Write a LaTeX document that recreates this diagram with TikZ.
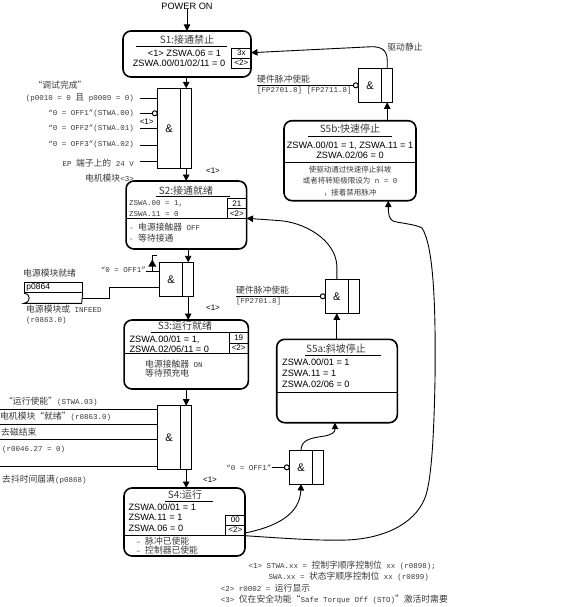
\documentclass[tikz,border=0pt]{standalone}
\usepackage{fontspec}
\setmainfont{Liberation Sans}
\setmonofont{Liberation Mono}
\newfontfamily\cjk{Noto Sans CJK SC}
\usepackage{tikz}
\usetikzlibrary{arrows.meta, positioning}
\definecolor{songgray}{HTML}{3A3A3A}
\newcommand{\zh}[1]{{\cjk\fontsize{8.8}{10}\selectfont #1}}
\newcommand{\zhs}[1]{{\cjk\fontsize{7.5}{9}\selectfont #1}}

\begin{document}
\begin{tikzpicture}[x=1pt, y=-1pt,
  state/.style={draw, line width=1.6pt, rounded corners=8pt, inner sep=0pt, outer sep=0pt},
  gate/.style={draw, line width=0.9pt, inner sep=0pt, outer sep=0pt, font=\fontsize{11}{12}\selectfont},
  strip/.style={draw, line width=0.9pt, inner sep=0pt, outer sep=0pt, minimum width=11pt},
  inv/.style={draw, circle, line width=1pt, fill=white, inner sep=0pt, outer sep=0pt, minimum size=5pt},
  tag/.style={draw, line width=0.8pt, inner sep=0pt, outer sep=0pt, minimum width=19.3pt, minimum height=10pt, font=\fontsize{8}{9}\selectfont},
  sans/.style={inner sep=0pt, font=\fontsize{9.2}{10}\selectfont},
  small/.style={inner sep=0pt, font=\fontsize{8}{9}\selectfont},
  mono/.style={inner sep=0pt, songgray, font=\fontsize{7.5}{9}\selectfont\ttfamily},
  zhtxt/.style={inner sep=0pt, songgray, font=\fontsize{8.8}{10}\selectfont\cjk},
  title/.style={inner sep=0pt, songgray, font=\fontsize{10}{11}\selectfont\cjk},
  wire/.style={line width=0.9pt},
  arr/.style={-{Triangle[width=6.5pt,length=6.5pt]}, line width=0.9pt}]
  \useasboundingbox (0,0) rectangle (561,607);

  % ── STATES ─────────────────────────────────
  \node[state, minimum width=128pt, minimum height=46pt] (S1) at (187,54) {};
  \node[state, minimum width=120.5pt, minimum height=68pt] (S2) at (186.3,215) {};
  \node[state, minimum width=124.3pt, minimum height=69pt] (S3) at (186.2,354.5) {};
  \node[state, minimum width=121pt, minimum height=68pt] (S4) at (184.5,522) {};
  \node[state, minimum width=120.6pt, minimum height=83.4pt] (S5a) at (337,381) {};
  \node[state, minimum width=132pt, minimum height=80pt] (S5b) at (350,160.7) {};

  % S1
  \node[title] (S1h) at (187,40) {S1:接通禁止};
  \draw[line width=0.8pt] (136,46) -- (227,46);
  \node[sans] (S1a) at (184.5,53) {<1> ZSWA.06 = 1};
  \node[sans] (S1b) at (179,63.5) {ZSWA.00/01/02/11 = 0};
  \node[tag, anchor=north east] (S1t) at (S1.east |- 0,48) {3x};
  \node[tag, anchor=north] (S1u) at (S1t.south) {<2>};

  % S2
  \node[title] (S2h) at (186,190.7) {S2:接通就绪};
  \draw[line width=0.8pt] (156,196.3) -- (230,196.3);
  \node[mono, anchor=west] (S2a) at (129,203.3) {ZSWA.00 = 1,};
  \node[mono, anchor=west] (S2b) at (129,214) {ZSWA.11 = 0};
  \node[tag, anchor=north east] (S2t) at (S2.east |- 0,198.3) {21};
  \node[tag, anchor=north] (S2u) at (S2t.south) {<2>};
  \draw[wire] (S2.west |- S2u.south) -- (S2u.south east);
  \node[mono, anchor=west] (S2c) at (129,227) {- \zh{电源接触器} OFF};
  \node[mono, anchor=west] (S2d) at (129,238.3) {- \zh{等待接通}};

  % S3
  \node[title] (S3h) at (185,325.5) {S3:运行就绪};
  \draw[line width=0.8pt] (151,332.2) -- (231,332.2);
  \node[sans, anchor=west] (S3a) at (129.3,339.3) {ZSWA.00/01 = 1,};
  \node[sans, anchor=west] (S3b) at (129.3,349) {ZSWA.02/06/11 = 0};
  \node[tag, anchor=north east, minimum height=10.3pt] (S3t) at (S3.east |- 0,332.7) {19};
  \node[tag, anchor=north, minimum height=10.3pt] (S3u) at (S3t.south) {<2>};
  \draw[wire] (S3.west |- S3u.south) -- (S3u.south east);
  \node[mono, anchor=west] (S3c) at (145,364.3) {\zh{电源接触器} ON};
  \node[zhtxt, anchor=west] (S3d) at (145,373.5) {等待预充电};

  % S4
  \node[title] (S4h) at (185,495) {S4:运行};
  \draw[line width=0.8pt] (165,501) -- (213.3,501);
  \node[sans, anchor=west] (S4a) at (128.3,507.7) {ZSWA.00/01 = 1};
  \node[sans, anchor=west] (S4b) at (128.3,517.3) {ZSWA.11 = 1};
  \node[sans, anchor=west] (S4c) at (128.3,528.5) {ZSWA.06 = 0};
  \node[tag, anchor=north east] (S4t) at (S4.east |- 0,515) {00};
  \node[tag, anchor=north] (S4u) at (S4t.south) {<2>};
  \draw[wire] (S4.west |- S4u.south) -- (S4u.south east);
  \node[mono, anchor=west] (S4d) at (136,541) {– \zh{脉冲已使能}};
  \node[mono, anchor=west] (S4e) at (136,550.5) {– \zh{控制器已使能}};

  % S5a
  \node[title] (S5ah) at (336,348.3) {S5a:斜坡停止};
  \draw[line width=0.8pt] (305,355.7) -- (380.7,355.7);
  \node[sans, anchor=west] (S5aa) at (282,362.7) {ZSWA.00/01 = 1};
  \node[sans, anchor=west] (S5ab) at (282,373.3) {ZSWA.11 = 1};
  \node[sans, anchor=west] (S5ac) at (282,384.3) {ZSWA.02/06 = 0};
  \draw[wire] (S5a.west |- 0,392.7) -- (S5a.east |- 0,392.7);

  % S5b
  \node[title] (S5bh) at (350,129) {S5b:快速停止};
  \draw[line width=0.8pt] (308,136) -- (392,136);
  \node[sans] (S5ba) at (350,145.7) {ZSWA.00/01 = 1, ZSWA.11 = 1};
  \node[sans] (S5bb) at (350,155.3) {ZSWA.02/06 = 0};
  \draw[wire] (S5b.west |- 0,162.7) -- (S5b.east |- 0,162.7);
  \node[mono] (S5bc) at (350,169.3) {\zhs{使驱动通过快速停止斜坡}};
  \node[mono] (S5bd) at (350,181) {\zhs{或者将转矩极限设为} n = 0};
  \node[mono] (S5be) at (350,193) {\zhs{，接着禁用脉冲}};

  % ── GATES ──────────────────────────────────
  \node[gate, anchor=north west, minimum width=23.4pt, minimum height=80pt] (g1) at (157.3,88.3) {\&};
  \node[strip, minimum height=80pt, right=0pt of g1] (g1s) {};
  \node[gate, anchor=north west, minimum width=23.4pt, minimum height=34.2pt] (g2) at (159.3,262.3) {\&};
  \node[strip, minimum height=34.2pt, right=0pt of g2] (g2s) {};
  \node[gate, anchor=north west, minimum width=23.4pt, minimum height=63.6pt] (g3) at (157.3,405.7) {\&};
  \node[strip, minimum height=63.6pt, right=0pt of g3] (g3s) {};
  \node[gate, anchor=north west, minimum width=23.4pt, minimum height=34pt] (g5bt) at (358.3,68.3) {\&};
  \node[strip, minimum height=34pt, right=0pt of g5bt] (g5bts) {};
  \node[gate, anchor=north west, minimum width=23pt, minimum height=34pt] (g5at) at (325.3,279.3) {\&};
  \node[strip, minimum height=34pt, right=0pt of g5at] (g5ats) {};
  \node[gate, anchor=north west, minimum width=23.4pt, minimum height=33.3pt] (g5ab) at (289.3,450.7) {\&};
  \node[strip, minimum height=33.3pt, right=0pt of g5ab] (g5abs) {};

  % ── MAIN CHAIN ─────────────────────────────
  \node[sans] (pwr) at (187,6) {POWER ON};
  \draw[arr] (pwr.south) -- (S1.north);
  \draw[arr] (S1.south -| g1s) -- (g1s.north);
  \draw[arr] (g1s.south) -- (g1s.south |- S2.north);
  \draw[arr] (S2.south -| g2s) -- (g2s.north);
  \draw[arr] (g2s.south) -- (g2s.south |- S3.north);
  \draw[arr] (S3.south -| g3s) -- (g3s.north);
  \draw[arr] (g3s.south) -- (g3s.south |- S4.north);
  \node[small] (n1) at (213,170.7) {<1>};
  \node[small] (n2) at (213,307.7) {<1>};
  \node[small] (n3) at (210,480) {<1>};

  % ── INPUTS TO g1 ───────────────────────────
  \foreach \y in {98.3,128.3,145,161.7}
    \draw[wire] (140,\y) -- (g1.west |- 0,\y);
  \node[inv, anchor=east] (g1n) at (g1.west |- 0,113.3) {};
  \draw[wire] (140,113.3) -- (g1n.west);
  \node[zhtxt] (i1a) at (60,85) {“调试完成”};
  \node[mono, anchor=east] (i1b) at (134,98.3) {(p0010 = 0 \zh{且} p0009 = 0)};
  \node[mono, anchor=east] (i1c) at (134,113.3) {“0 = OFF1”(STWA.00)};
  \node[small] (i1d) at (146.7,121.7) {<1>};
  \node[mono, anchor=east] (i1e) at (134,128.3) {“0 = OFF2”(STWA.01)};
  \node[mono, anchor=east] (i1f) at (134,145) {“0 = OFF3”(STWA.02)};
  \node[mono, anchor=east] (i1g) at (134,163) {EP \zh{端子上的} 24 V};
  \node[mono, anchor=east] (i1h) at (134,178.5) {\zh{电机模块}<3>};

  % ── INPUTS TO g2 ───────────────────────────
  \node[mono, anchor=east] (i2a) at (146,270) {“0 = OFF1”};
  \draw[wire] (i2a.east |- 0,271.7) -- (g2.west |- 0,271.7);
  \draw[wire] (152.3,271.7) -- (152.3,255) -- (157,255);
  \fill (148.3,266.5) -- (156.3,266.5) -- (152.3,259.5) -- cycle;
  \node[zhtxt, anchor=west] (i2b) at (23,273.3) {电源模块就绪};
  \node[draw, wire, anchor=north west, inner xsep=2pt, inner ysep=0pt, text width=53.7pt,
        minimum height=10.6pt, font=\fontsize{8.5}{9}\selectfont] (p864) at (24,281.7) {p0864};
  \draw[wire] (p864.south east) -- (81.7,303.3) -- (24,303.3)
    .. controls (31,302) and (31,294) .. (p864.south west);
  \coordinate (p864o) at (81.7,298);
  \draw[wire] (p864o) -- (109.3,298) -- (109.3,287.3) -- (g2.west |- 0,287.3);
  \node[mono, anchor=west] (i2c) at (26,309.3) {\zh{电源模块或} INFEED};
  \node[mono, anchor=west] (i2d) at (26,320.7) {(r0863.0)};

  % ── INPUTS TO g3 ───────────────────────────
  \foreach \y in {409.3,424.3,439.3,466}
    \draw[wire] (0,\y) -- (g3.west |- 0,\y);
  \node[mono, anchor=west] (i3a) at (4,401.7) {\zh{“运行使能”}(STWA.03)};
  \node[mono, anchor=west] (i3b) at (0,416.7) {\zh{电机模块“就绪”}(r0863.0)};
  \node[zhtxt, anchor=west] (i3c) at (1,431.7) {去磁结束};
  \node[mono, anchor=west] (i3d) at (2,450) {(r0046.27 = 0)};
  \node[mono, anchor=west] (i3e) at (2,480) {\zh{去抖时间届满}(p0868)};

  % ── FAST STOP BRANCH ───────────────────────
  \node[inv, anchor=east] (g5btn) at (g5bt.west) {};
  \draw[wire] (256.7,0 |- g5bt.west) -- (g5btn.west);
  \node[zhtxt, anchor=west] (i5a) at (257,79) {硬件脉冲使能};
  \node[mono, anchor=west] (i5b) at (257,90.5) {[FP2701.8] [FP2711.8]};
  \node[zhtxt] (i5c) at (405,47) {驱动静止};
  \draw[arr] (S5b.north -| g5bts.south) -- (g5bts.south);
  \draw[arr] (g5bts.north) -- (387.2,60) .. controls (387.2,50) and (381,46.7) .. (372,46.7)
    -- ([yshift=1.3pt]S1.east);

  % ── RAMP STOP BRANCH ───────────────────────
  \node[inv, anchor=east] (g5atn) at (g5at.west) {};
  \draw[wire] (236,0 |- g5at.west) -- (g5atn.west);
  \node[zhtxt, anchor=west] (i6a) at (236,290) {硬件脉冲使能};
  \node[mono, anchor=west] (i6b) at (236,302) {[FP2701.8]};
  \draw[arr] (S5a.north -| g5at.south) -- (g5at.south);
  \draw[arr] (g5at.north) -- (336.8,265) .. controls (335,240) and (305,222) .. (278,220.5)
    -- ([yshift=-3.3pt]S2.east);

  \node[inv, anchor=east] (g5abn) at (g5ab.west) {};
  \node[mono, anchor=east] (i7a) at (271.5,0 |- g5ab.west) {“0 = OFF1”};
  \draw[wire] (i7a.east) -- (g5abn.west);
  \draw[arr] (g5ab.north) .. controls (301,440) and (310,438) .. (325,436)
    .. controls (333,434) and (335,432) .. ([xshift=-2pt]S5a.south);

  % ── FROM S4 ────────────────────────────────
  \draw[arr] ([yshift=-11pt]S4.east) .. controls (275,527) and (300,515) .. (g5ab.south);
  \draw[arr] ([yshift=-13.7pt]S4.east) .. controls (280,538) and (320,541) .. (347,540)
    .. controls (390,538) and (418,520) .. (426,495)
    .. controls (432,475) and (434,430) .. (435,380)
    .. controls (436,300) and (433,245) .. (422,228)
    .. controls (415,224) and (398,223) .. (393,221)
    .. controls (389,219) and (388.3,214) .. ([xshift=38.3pt]S5b.south);

  % ── NOTES ──────────────────────────────────
  \node[mono, anchor=west] (f1) at (248.3,566) {<1> STWA.xx = \zh{控制字顺序控制位} xx (r0898);};
  \node[mono, anchor=west] (f2) at (268.3,576.7) {SWA.xx = \zh{状态字顺序控制位} xx (r0899)};
  \node[mono, anchor=west] (f3) at (220.7,588.3) {<2> r0002 = \zh{运行显示}};
  \node[mono, anchor=west] (f4) at (220.7,600) {<3> \zh{仅在安全功能“}Safe Torque Off (STO)\zh{”激活时需要}};
\end{tikzpicture}
\end{document}
